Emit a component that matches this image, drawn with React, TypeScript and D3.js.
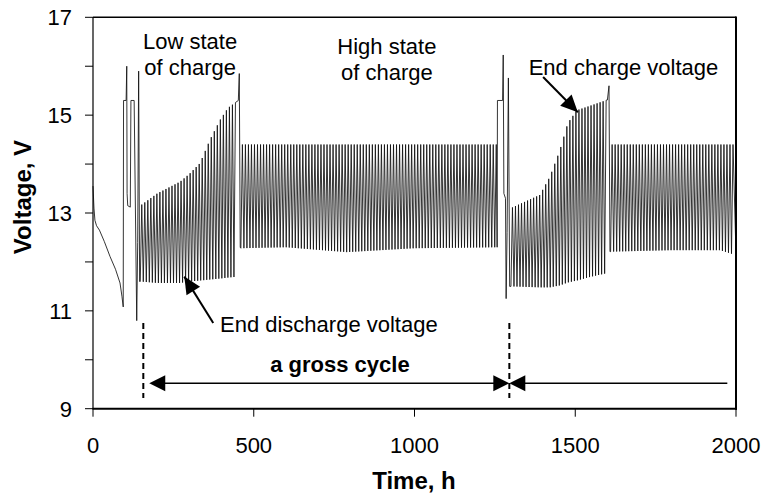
import React from "react";
import * as d3 from "d3";

// ---------- data ----------
const xTickValues = [0, 500, 1000, 1500, 2000];
const yTickLabelValues = [9, 11, 13, 15, 17];
const yTickValues = [9, 10, 11, 12, 13, 14, 15, 16, 17];

// initial rest + first boost charges (time h, voltage V)
const startT = [0, 3, 6, 11, 20, 35, 53, 70, 84, 90, 94, 95, 103, 105, 106, 108, 116, 118, 128, 136, 139, 142, 145];
const startV = [13.55, 13.1, 12.85, 12.74, 12.65, 12.42, 12.11, 11.85, 11.57, 11.3, 11.08, 15.3, 15.3, 16.0, 13.4, 13.15, 13.12, 15.3, 15.3, 10.8, 12.4, 15.9, 11.6];

// low state of charge, first gross cycle: envelope of the daily cycles
const low1T = [147, 200, 271, 300, 333, 364, 395, 420, 452];
const low1Top = [13.15, 13.4, 13.64, 13.8, 14.02, 14.5, 14.9, 15.15, 15.3];
const low1Bottom = [11.6, 11.57, 11.57, 11.6, 11.62, 11.64, 11.66, 11.68, 11.7];

// end-charge spike
const spike1T = [452, 455, 458];
const spike1V = [15.3, 15.85, 12.3];

// high state of charge, first gross cycle
const high1T = [460, 600, 790, 1000, 1255];
const high1Top = [14.4, 14.4, 14.4, 14.4, 14.4];
const high1Bottom = [12.28, 12.3, 12.2, 12.28, 12.3];

// boost charges at the start of the second gross cycle
const boost2T = [1257, 1258, 1274, 1276, 1278, 1283, 1285, 1288, 1292, 1296];
const boost2V = [12.3, 15.3, 15.3, 16.23, 13.4, 13.3, 11.25, 12.6, 15.76, 11.5];

// low state of charge, second gross cycle
const low2T = [1300, 1390, 1421, 1452, 1477, 1505, 1550, 1598];
const low2Top = [13.1, 13.37, 13.74, 14.28, 14.84, 15.1, 15.2, 15.31];
const low2Bottom = [11.5, 11.48, 11.48, 11.52, 11.58, 11.62, 11.7, 11.77];

const spike2T = [1600, 1605, 1608];
const spike2V = [15.31, 15.6, 12.21];

// high state of charge, second gross cycle
const high2T = [1610, 1800, 1950, 2000];
const high2Top = [14.4, 14.4, 14.4, 14.4];
const high2Bottom = [12.21, 12.24, 12.24, 12.14];

const cyclePeriod = 9.4; // h, one charge/discharge cycle

// annotations (data coordinates)
const grossCycleBounds = [156.5, 1295];
const grossArrowEnds = [175, 1973];

type P = [number, number];

function zipPts(T: number[], V: number[]): P[] {
  return T.map((t, i) => [t, V[i]] as P);
}

function cyclePts(T: number[], top: number[], bottom: number[]): P[] {
  const topS = d3.scaleLinear().domain(T).range(top);
  const botS = d3.scaleLinear().domain(T).range(bottom);
  const pts: P[] = [];
  const t1 = T[T.length - 1];
  for (let t = T[0]; t + cyclePeriod / 2 <= t1; t += cyclePeriod) {
    pts.push([t, botS(t)]);
    pts.push([t + cyclePeriod * 0.5, topS(t + cyclePeriod * 0.5)]);
  }
  return pts;
}

function arrowHead(tail: P, tip: P, len = 16, half = 7.5): string {
  const dx = tip[0] - tail[0];
  const dy = tip[1] - tail[1];
  const L = Math.hypot(dx, dy);
  const ux = dx / L, uy = dy / L;
  const bx = tip[0] - ux * len, by = tip[1] - uy * len;
  const px = -uy, py = ux;
  return `M${tip[0]},${tip[1]}L${bx + px * half},${by + py * half}L${bx - px * half},${by - py * half}Z`;
}

export default function App() {
  const x = d3.scaleLinear().domain([0, 2000]).range([93, 736]);
  const y = d3.scaleLinear().domain([9, 17]).range([408.7, 17.3]);

  const series: P[] = [
    ...zipPts(startT, startV),
    ...cyclePts(low1T, low1Top, low1Bottom),
    ...zipPts(spike1T, spike1V),
    ...cyclePts(high1T, high1Top, high1Bottom),
    ...zipPts(boost2T, boost2V),
    ...cyclePts(low2T, low2Top, low2Bottom),
    ...zipPts(spike2T, spike2V),
    ...cyclePts(high2T, high2Top, high2Bottom),
    [2000, high2Bottom[high2Bottom.length - 1]],
  ];

  const line = d3
    .line<P>()
    .x((d) => x(d[0]))
    .y((d) => y(d[1]));

  const font = "'Liberation Sans', Arial, Helvetica, sans-serif";
  const x0 = x(0), x1 = x(2000), yTop = y(17), yBot = y(9);

  const chargeTail: P = [x(1400), y(15.78)];
  const chargeTip: P = [x(1508), y(15.06)];
  const dischTail: P = [x(374), y(10.75)];
  const dischTip: P = [x(284), y(11.7)];

  const arrowY = y(9.52);
  const dashTop = y(10.75), dashBottom = y(9.22);
  const leftTip: P = [x(grossArrowEnds[0]), arrowY];
  const midTip: P = [x(grossCycleBounds[1]), arrowY];

  return (
    <svg
      width={764}
      height={500}
      style={{ position: "absolute", left: 0, top: 0, background: "#fff" }}
      fontFamily={font}
    >
      <rect x={0} y={0} width={764} height={500} fill="#fff" />
      {/* data */}
      <path d={line(series) ?? ""} fill="none" stroke="#111" strokeWidth={0.85} strokeLinejoin="miter" />

      {/* frame */}
      <line x1={x0} y1={yTop} x2={x1} y2={yTop} stroke="#000" strokeWidth={1.5} />
      <line x1={x0} y1={yTop} x2={x0} y2={yBot} stroke="#000" strokeWidth={1.2} />
      <line x1={x1} y1={yTop - 0.7} x2={x1} y2={yBot + 1} stroke="#000" strokeWidth={2} />
      <line x1={x0 - 0.6} y1={yBot} x2={x1 + 1} y2={yBot} stroke="#000" strokeWidth={2} />

      {/* y ticks */}
      {yTickValues.map((v) => (
        <line key={"yt" + v} x1={x0 - 8} x2={x0} y1={y(v)} y2={y(v)} stroke="#000" strokeWidth={1} />
      ))}
      {yTickLabelValues.map((v) => (
        <text key={"yl" + v} x={72} y={y(v)} dy="0.36em" textAnchor="end" fontSize={22} fill="#000">
          {v}
        </text>
      ))}
      {/* x ticks */}
      {xTickValues.map((v) => (
        <line key={"xt" + v} x1={x(v)} x2={x(v)} y1={yBot} y2={yBot + 8} stroke="#000" strokeWidth={1} />
      ))}
      {xTickValues.map((v) => (
        <text key={"xl" + v} x={x(v)} y={453} textAnchor="middle" fontSize={22} fill="#000">
          {v}
        </text>
      ))}

      {/* axis titles */}
      <text x={414} y={489} textAnchor="middle" fontSize={24} fontWeight="bold" fill="#000">
        Time, h
      </text>
      <text
        transform={`translate(31,197) rotate(-90)`}
        textAnchor="middle"
        fontSize={24}
        fontWeight="bold"
        fill="#000"
      >
        Voltage, V
      </text>

      {/* region labels */}
      <text x={x(302)} y={y(16.36)} textAnchor="middle" fontSize={22} fill="#000">Low state</text>
      <text x={x(302)} y={y(15.83)} textAnchor="middle" fontSize={22} fill="#000">of charge</text>
      <text x={x(914)} y={y(16.25)} textAnchor="middle" fontSize={22} fill="#000">High state</text>
      <text x={x(914)} y={y(15.72)} textAnchor="middle" fontSize={22} fill="#000">of charge</text>

      {/* end charge voltage */}
      <text x={x(1650)} y={y(15.82)} textAnchor="middle" fontSize={22} fill="#000">End charge voltage</text>
      <line x1={chargeTail[0]} y1={chargeTail[1]} x2={chargeTip[0]} y2={chargeTip[1]} stroke="#000" strokeWidth={2} />
      <path d={arrowHead(chargeTail, chargeTip, 17, 8)} fill="#000" />

      {/* end discharge voltage */}
      <text x={x(395)} y={y(10.56)} textAnchor="start" fontSize={22} fill="#000">End discharge voltage</text>
      <line x1={dischTail[0]} y1={dischTail[1]} x2={dischTip[0]} y2={dischTip[1]} stroke="#000" strokeWidth={2} />
      <path d={arrowHead(dischTail, dischTip, 17, 8)} fill="#000" />

      {/* gross cycle */}
      {grossCycleBounds.map((t) => (
        <line key={"d" + t} x1={x(t)} x2={x(t)} y1={dashTop} y2={dashBottom} stroke="#000" strokeWidth={2} strokeDasharray="6,4" />
      ))}
      <line x1={leftTip[0] + 10} y1={arrowY} x2={midTip[0] - 10} y2={arrowY} stroke="#000" strokeWidth={1.5} />
      <path d={arrowHead([midTip[0], arrowY], leftTip, 16, 8)} fill="#000" />
      <path d={arrowHead(leftTip, midTip, 16, 8)} fill="#000" />
      <path d={arrowHead([x(grossArrowEnds[1]), arrowY], midTip, 16, 8)} fill="#000" />
      <line x1={midTip[0] + 10} y1={arrowY} x2={x(grossArrowEnds[1])} y2={arrowY} stroke="#000" strokeWidth={1.5} />
      <text x={x(768)} y={y(9.74)} textAnchor="middle" fontSize={22} fontWeight="bold" fill="#000">
        a gross cycle
      </text>
    </svg>
  );
}
